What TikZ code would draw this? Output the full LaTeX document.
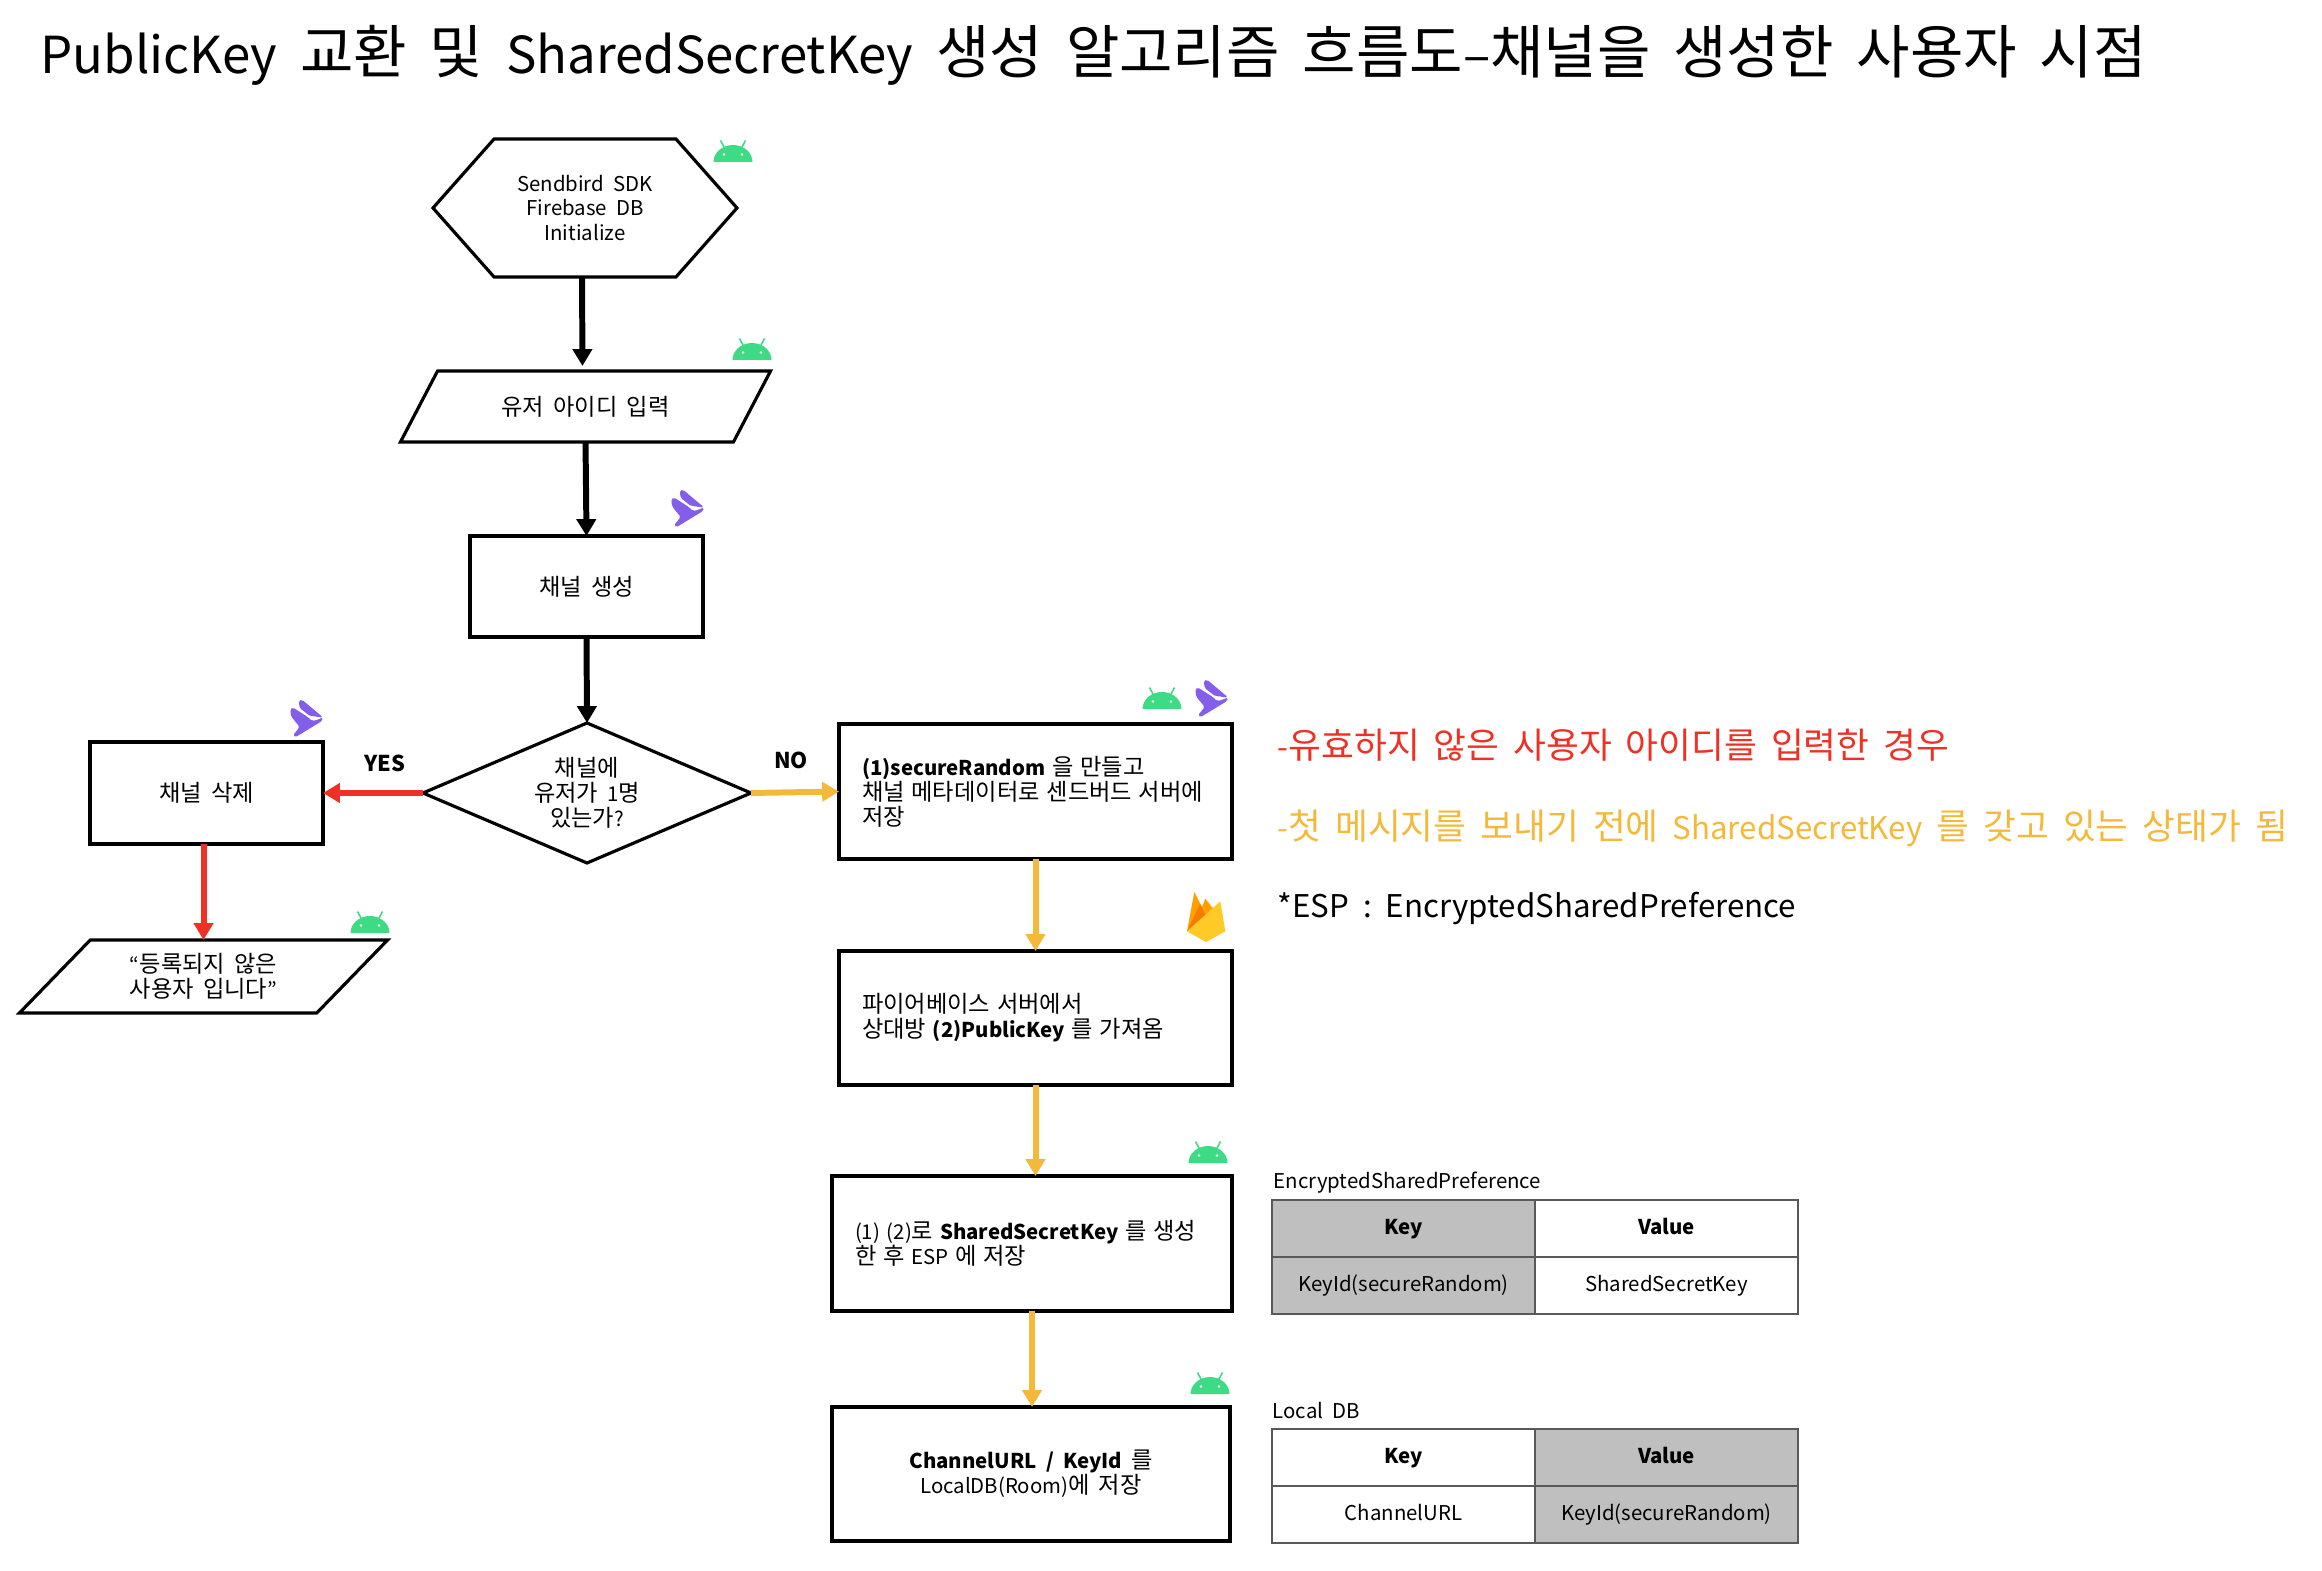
\documentclass[tikz,border=0pt]{standalone}
\usepackage{fontspec}
\setmainfont{Noto Sans CJK KR}[WordSpace=2]
\newfontfamily\hangulfont{Noto Sans CJK KR}[Scale=1.14]
\XeTeXinterchartokenstate=1
\newXeTeXintercharclass\hangulclass
\count255="AC00
\loop\XeTeXcharclass\count255=\hangulclass\ifnum\count255<"D7A3 \advance\count255 by 1 \repeat
\XeTeXinterchartoks 0 \hangulclass={\begingroup\hangulfont}
\XeTeXinterchartoks 4095 \hangulclass={\begingroup\hangulfont}
\XeTeXinterchartoks \hangulclass 0 ={\endgroup}
\XeTeXinterchartoks \hangulclass 4095 ={\endgroup}
\usepackage{xcolor}
\usetikzlibrary{arrows.meta,shapes.geometric,shapes.symbols}
\definecolor{droid}{HTML}{3DDC84}
\definecolor{sbird}{HTML}{825EEB}
\definecolor{fbyellow}{HTML}{FFCA28}
\definecolor{fborange}{HTML}{FFA000}
\definecolor{fbdark}{HTML}{F57C00}
\definecolor{flowred}{HTML}{EE3124}
\definecolor{flowgold}{HTML}{F4B93A}
\definecolor{cellgray}{HTML}{BFBFBF}
\newcommand{\smalltext}{\fontsize{5.8}{7.1}\selectfont}
\tikzset{
  base/.style={draw=black,line width=0.9pt,outer sep=0pt,inner sep=0pt,align=center,font=\smalltext},
  flowbox/.style={base,rectangle},
  leftbox/.style={base,rectangle,align=left,inner xsep=0.23cm},
  inputbox/.style={base,trapezium,trapezium stretches=true,trapezium left angle=45,trapezium right angle=135},
  blackarrow/.style={line width=1.7pt,-{Triangle[width=5.4pt,length=4.8pt]}},
  redarrow/.style={blackarrow,draw=flowred},
  goldarrow/.style={blackarrow,draw=flowgold},
  cell/.style={draw=black!65,line width=0.45pt,minimum width=2.63cm,minimum height=0.57cm,inner sep=0pt,outer sep=0pt,text height=5pt,text depth=1.5pt,font=\smalltext},
  graycell/.style={cell,fill=cellgray},
  cellhead/.style={font=\smalltext\bfseries},
  flowlabel/.style={font=\fontsize{6.2}{8}\selectfont\bfseries,inner sep=0pt},
  tablelabel/.style={anchor=west,inner sep=0pt,font=\smalltext},
  note/.style={anchor=west,inner sep=0pt,font=\fontsize{8.9}{12}\selectfont},
  android/.pic={
    \draw[droid,line width=0.45pt] (-0.08,0.13) -- (-0.125,0.215) (0.08,0.13) -- (0.125,0.215);
    \fill[droid] (-0.195,0) arc[start angle=180,end angle=0,x radius=0.195,y radius=0.17] -- cycle;
    \fill[white] (-0.09,0.075) circle (0.013) (0.09,0.075) circle (0.013);
  },
  sendbird/.pic={
    \fill[sbird,rounded corners=0.5pt] (-0.083,0.173) -- (-0.05,0.183) -- (0.16,0.007) -- (0.117,0.007) -- (0.067,0.02) -- (0.033,0.017) -- (-0.073,0.1) -- cycle;
    \fill[sbird,rounded corners=0.5pt] (-0.167,0.09) -- (-0.14,0.105) -- (0.007,0.01) -- (0.05,-0.03) -- (0.1,-0.02) -- (0.16,0.007) -- (0.15,-0.03) -- (-0.117,-0.193) -- (-0.14,-0.173) -- (-0.073,-0.09) -- (-0.16,0.017) -- cycle;
  },
  firebase/.pic={
    \fill[fborange] (-0.19,-0.143) -- (-0.117,0.25) -- (-0.04,0.10) -- (-0.007,0.183) -- (0.09,0.06) -- cycle;
    \fill[fbdark] (-0.19,-0.143) -- (-0.06,0.13) -- (-0.02,0.05) -- (0.02,-0.02) -- cycle;
    \fill[fbyellow] (-0.19,-0.143) -- (0.143,0.157) -- (0.193,-0.143) -- (0,-0.25) -- cycle;
  },
}
\begin{document}
\begin{tikzpicture}[x=1cm,y=1cm]
  \useasboundingbox (0,0) rectangle (23.22,15.70);
  \node[anchor=west,inner sep=0pt,font=\fontsize{14.5}{18}\selectfont] (title) at (0.40,15.15) {PublicKey 교환 및 SharedSecretKey 생성 알고리즘 흐름도–채널을 생성한 사용자 시점};
  % main flow
  \node[base,signal,signal from=nowhere,signal to=west and east,signal pointer angle=97,minimum width=3.04cm,minimum height=1.38cm,label={[name=sdktext,align=center,font=\smalltext,inner sep=0pt]center:Sendbird SDK\\Firebase DB\\Initialize}] (sdkinit) at (5.85,13.62) {};
  \node[inputbox,minimum width=3.71cm,minimum height=0.71cm] (userinput) at (5.855,11.635) {유저 아이디 입력};
  \node[flowbox,minimum width=2.33cm,minimum height=1.01cm] (chcreate) at (5.865,9.835) {채널 생성};
  \node[base,diamond,aspect=2.34,minimum width=3.28cm,minimum height=1.40cm] (onecheck) at (5.87,7.77) {채널에\\유저가 1명\\있는가?};
  \node[flowbox,minimum width=2.33cm,minimum height=1.02cm] (chdelete) at (2.065,7.77) {채널 삭제};
  \node[inputbox,minimum width=3.71cm,minimum height=0.73cm] (errmsg) at (2.035,5.935) {“등록되지 않은\\사용자 입니다”};
  \node[leftbox,minimum width=3.93cm,minimum height=1.35cm,text width=3.47cm] (randbox) at (10.355,7.785) {\textbf{(1)secureRandom} 을 만들고\\채널 메타데이터로 센드버드 서버에\\저장};
  \node[leftbox,minimum width=3.93cm,minimum height=1.34cm,text width=3.47cm] (pubkeybox) at (10.355,5.52) {파이어베이스 서버에서\\상대방 \textbf{(2)PublicKey} 를 가져옴};
  \node[leftbox,minimum width=4.00cm,minimum height=1.35cm,text width=3.54cm] (sharedbox) at (10.32,3.265) {(1) (2)로 \textbf{SharedSecretKey} 를 생성\\한 후 ESP 에 저장};
  \node[flowbox,minimum width=3.98cm,minimum height=1.34cm] (localbox) at (10.31,0.96) {\textbf{ChannelURL / KeyId} 를\\LocalDB(Room)에 저장};
  \draw[blackarrow,shorten >=0.05cm] ([xshift=-0.03cm]sdkinit.south) -- ([xshift=-0.03cm]userinput.north);
  \draw[blackarrow] (userinput.south) -- (chcreate.north);
  \draw[blackarrow] (chcreate.south) -- (onecheck.north);
  \draw[redarrow] (onecheck.west) -- (chdelete.east);
  \draw[redarrow] (chdelete.south -| errmsg.north) -- (errmsg.north);
  \draw[goldarrow] (onecheck.east) -- (randbox.west);
  \draw[goldarrow] (randbox.south) -- (pubkeybox.north);
  \draw[goldarrow] (pubkeybox.south) -- (pubkeybox.south |- sharedbox.north);
  \draw[goldarrow] (sharedbox.south) -- (sharedbox.south |- localbox.north);
  \node[flowlabel] (yestext) at (3.85,8.07) {YES};
  \node[flowlabel] (notext) at (7.91,8.10) {NO};
  % icons
  \pic at (7.33,14.08) {android};
  \pic at (7.52,12.10) {android};
  \pic at (3.70,6.37) {android};
  \pic at (11.62,8.61) {android};
  \pic at (12.08,4.07) {android};
  \pic at (12.10,1.76) {android};
  \pic at (6.88,10.62) {sendbird};
  \pic at (12.12,8.72) {sendbird};
  \pic at (3.07,8.52) {sendbird};
  \pic at (12.06,6.53) {firebase};
  % notes
  \node[note,text=flowred] (redtext) at (12.77,8.25) {-유효하지 않은 사용자 아이디를 입력한 경우};
  \node[note,text=flowgold] (goldtext) at (12.77,7.42) {-첫 메시지를 보내기 전에 SharedSecretKey 를 갖고 있는 상태가 됨};
  \node[note] (esptext) at (12.77,6.61) {*ESP : EncryptedSharedPreference};
  % tables
  \node[tablelabel] (esplabel) at (12.73,3.87) {EncryptedSharedPreference};
  \node[graycell,cellhead] (espkey) at (14.035,3.415) {Key};
  \node[cell,cellhead] (espvalue) at (16.665,3.415) {Value};
  \node[graycell] (espkeyid) at (14.035,2.845) {KeyId(secureRandom)};
  \node[cell] (espsecret) at (16.665,2.845) {SharedSecretKey};
  \node[tablelabel] (dblabel) at (12.72,1.59) {Local DB};
  \node[cell,cellhead] (dbkey) at (14.035,1.125) {Key};
  \node[graycell,cellhead] (dbvalue) at (16.665,1.125) {Value};
  \node[cell] (dburl) at (14.035,0.555) {ChannelURL};
  \node[graycell] (dbkeyid) at (16.665,0.555) {KeyId(secureRandom)};
\end{tikzpicture}
\end{document}
